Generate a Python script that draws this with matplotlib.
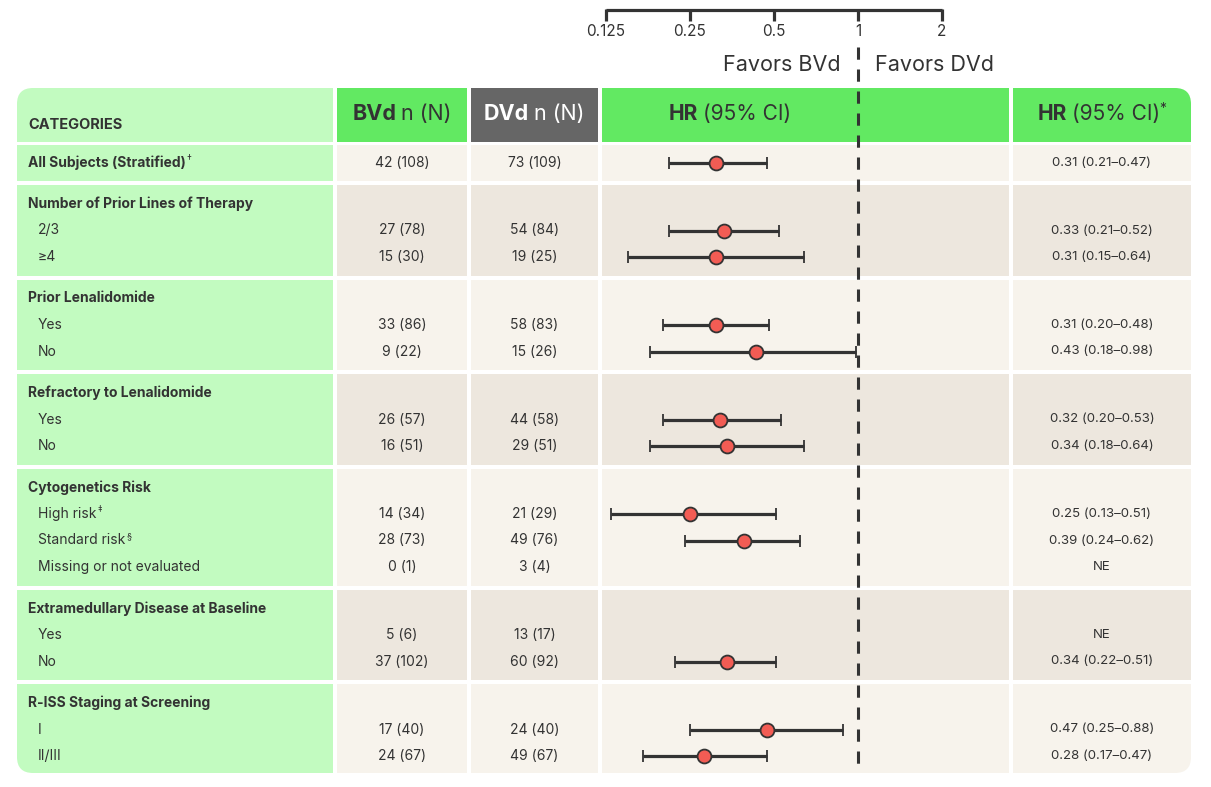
import numpy as np
import matplotlib
matplotlib.use("Agg")
import matplotlib.pyplot as plt
from matplotlib.patches import Rectangle, FancyBboxPatch

plt.rcParams['font.family'] = ['Inter', 'DejaVu Sans']

# -------------------------
# Data
# -------------------------
section_titles = ["All Subjects (Stratified)", "Number of Prior Lines of Therapy", "Prior Lenalidomide",
                  "Refractory to Lenalidomide", "Cytogenetics Risk", "Extramedullary Disease at Baseline",
                  "R-ISS Staging at Screening"]
title_marks = ["†", "", "", "", "", "", ""]
sub_labels = [[], ["2/3", "≥4"], ["Yes", "No"], ["Yes", "No"],
              ["High risk", "Standard risk", "Missing or not evaluated"], ["Yes", "No"], ["I", "II/III"]]
sub_marks = [[], ["", ""], ["", ""], ["", ""], ["‡", "§", ""], ["", ""], ["", ""]]

# one entry per data row, in reading order
bvd_counts = ["42 (108)", "27 (78)", "15 (30)", "33 (86)", "9 (22)", "26 (57)", "16 (51)",
              "14 (34)", "28 (73)", "0 (1)", "5 (6)", "37 (102)", "17 (40)", "24 (67)"]
dvd_counts = ["73 (109)", "54 (84)", "19 (25)", "58 (83)", "15 (26)", "44 (58)", "29 (51)",
              "21 (29)", "49 (76)", "3 (4)", "13 (17)", "60 (92)", "24 (40)", "49 (67)"]
hr = [0.31, 0.33, 0.31, 0.31, 0.43, 0.32, 0.34, 0.25, 0.39, np.nan, np.nan, 0.34, 0.47, 0.28]
ci_low = [0.21, 0.21, 0.15, 0.20, 0.18, 0.20, 0.18, 0.13, 0.24, np.nan, np.nan, 0.22, 0.25, 0.17]
ci_high = [0.47, 0.52, 0.64, 0.48, 0.98, 0.53, 0.64, 0.51, 0.62, np.nan, np.nan, 0.51, 0.88, 0.47]
hr_labels = ["0.31 (0.21–0.47)", "0.33 (0.21–0.52)", "0.31 (0.15–0.64)", "0.31 (0.20–0.48)",
             "0.43 (0.18–0.98)", "0.32 (0.20–0.53)", "0.34 (0.18–0.64)", "0.25 (0.13–0.51)",
             "0.39 (0.24–0.62)", "NE", "NE", "0.34 (0.22–0.51)", "0.47 (0.25–0.88)", "0.28 (0.17–0.47)"]

scale_ticks = [0.125, 0.25, 0.5, 1, 2]
scale_labels = ["0.125", "0.25", "0.5", "1", "2"]

# -------------------------
# Style
# -------------------------
DARK = "#333333"
CAT_BG = "#C2FBC0"
GREEN = "#62E962"
GRAY = "#666666"
CREAM = ["#F7F3EC", "#EDE7DE"]
RED = "#F25C54"

cols = {"cat": (17, 333), "bvd": (337, 467), "dvd": (471, 598), "plot": (602, 1009), "hr": (1013, 1191)}
x_one = 858
px_per_doubling = 84

fig = plt.figure(figsize=(12.11, 7.87), dpi=100)
ax = fig.add_axes([0, 0, 1, 1])
ax.set_xlim(0, 1211)
ax.set_ylim(787, 0)
ax.axis("off")

renderer = fig.canvas.get_renderer()


def put_pieces(x, y, pieces, ha="left"):
    # pieces: (text, props); props may carry 'dy' (vertical shift) and 'gap' (space before)
    texts, widths, gaps = [], [], []
    for s, kw in pieces:
        dy = kw.pop("dy", 0)
        gaps.append(kw.pop("gap", 0) if texts else 0)
        t = ax.text(0, y + dy, s, va="center", ha="left", **kw)
        texts.append(t)
        widths.append(t.get_window_extent(renderer=renderer).width)
    total = sum(widths) + sum(gaps)
    start = x if ha == "left" else x - total / 2
    for t, w, g in zip(texts, widths, gaps):
        start += g
        t.set_x(start)
        start += w


clip = FancyBboxPatch((17, 88), 1174, 685, boxstyle="round,pad=0,rounding_size=16",
                      facecolor="none", edgecolor="none")
ax.add_patch(clip)


def cell(col, y0, y1, color):
    x0, x1 = cols[col]
    r = Rectangle((x0, y0), x1 - x0, y1 - y0, facecolor=color, edgecolor="none")
    ax.add_patch(r)
    r.set_clip_path(clip)


# header row
hy0, hy1 = 88, 142
for c, colr in [("cat", CAT_BG), ("bvd", GREEN), ("dvd", GRAY), ("plot", GREEN), ("hr", GREEN)]:
    cell(c, hy0, hy1, colr)

ax.text(28, 125, "CATEGORIES", fontsize=10.5, fontweight="bold", color=DARK, va="center")
put_pieces(402, 114, [("BVd", dict(fontsize=15.5, fontweight="bold", color=DARK)),
                      ("n (N)", dict(fontsize=15.5, color=DARK, gap=5))], ha="center")
put_pieces(534, 114, [("DVd", dict(fontsize=15.5, fontweight="bold", color="white")),
                      ("n (N)", dict(fontsize=15.5, color="white", gap=5))], ha="center")
put_pieces(730, 114, [("HR", dict(fontsize=15, fontweight="bold", color=DARK)),
                      ("(95% CI)", dict(fontsize=15, color=DARK, gap=5))], ha="center")
put_pieces(1102, 114, [("HR", dict(fontsize=15, fontweight="bold", color=DARK)),
                       ("(95% CI)", dict(fontsize=15, color=DARK, gap=5)),
                       ("*", dict(fontsize=10, color=DARK, dy=-5, gap=-1))], ha="center")

# body rows
row_y = []
top = 145
for si, title in enumerate(section_titles):
    subs = sub_labels[si]
    if not subs:
        bottom = top + 36
        ty = (top + bottom) / 2
        ys = [ty]
    else:
        ty = top + 19
        ys = [ty + 26.5 * (k + 1) for k in range(len(subs))]
        bottom = ys[-1] + 18.5
    cell("cat", top, bottom, CAT_BG)
    for c in ["bvd", "dvd", "plot", "hr"]:
        cell(c, top, bottom, CREAM[si % 2])
    pieces = [(title, dict(fontsize=10, fontweight="bold", color=DARK))]
    if title_marks[si]:
        pieces.append((title_marks[si], dict(fontsize=7, color=DARK, dy=-4, gap=1)))
    put_pieces(28, ty, pieces)
    for k, lab in enumerate(subs):
        pieces = [(lab, dict(fontsize=10, color=DARK))]
        if sub_marks[si][k]:
            pieces.append((sub_marks[si][k], dict(fontsize=6.5, color=DARK, dy=-4, gap=1)))
        put_pieces(38, ys[k], pieces)
    row_y.extend(ys)
    top = bottom + 4

for i, y in enumerate(row_y):
    ax.text(sum(cols["bvd"]) / 2, y, bvd_counts[i], fontsize=10, color=DARK, ha="center", va="center")
    ax.text(sum(cols["dvd"]) / 2, y, dvd_counts[i], fontsize=10, color=DARK, ha="center", va="center")
    ax.text(1102, y, hr_labels[i], fontsize=9.5, color=DARK, ha="center", va="center")

ax.text(841, 65, "Favors BVd", fontsize=15.5, color=DARK, ha="right", va="center")
ax.text(875, 65, "Favors DVd", fontsize=15.5, color=DARK, ha="left", va="center")

# -------------------------
# Forest axes (log2 scale)
# -------------------------
px0, px1 = cols["plot"]
fx = fig.add_axes([px0 / 1211, 0, (px1 - px0) / 1211, 1])
fx.set_xscale("log", base=2)
fx.set_xlim(2 ** ((px0 - x_one) / px_per_doubling), 2 ** ((px1 - x_one) / px_per_doubling))
fx.set_ylim(787, 0)
fx.axis("off")
fx.patch.set_alpha(0)

# top scale
fx.plot([scale_ticks[0], scale_ticks[-1]], [10, 10], color=DARK, lw=2.3, clip_on=False,
        solid_capstyle="butt")
for tv, tl in zip(scale_ticks, scale_labels):
    fx.plot([tv, tv], [9, 21], color=DARK, lw=2.3, clip_on=False, solid_capstyle="butt")
    fx.text(tv, 32, tl, fontsize=11, color=DARK, ha="center", va="center")

fx.plot([1, 1], [47, 773], color=DARK, lw=2.2, dashes=(4, 3.2), clip_on=False)

hr_a = np.array(hr)
lo_a = np.array(ci_low)
hi_a = np.array(ci_high)
ys_a = np.array(row_y)
ok = ~np.isnan(hr_a)
fx.errorbar(hr_a[ok], ys_a[ok], xerr=[hr_a[ok] - lo_a[ok], hi_a[ok] - hr_a[ok]],
            fmt="o", color=DARK, ecolor=DARK, elinewidth=2.3, capsize=4.5, capthick=2.3,
            markerfacecolor=RED, markeredgecolor=DARK, markeredgewidth=1.3, markersize=10,
            clip_on=False, zorder=5)

fig.savefig("out.png", dpi=100)
